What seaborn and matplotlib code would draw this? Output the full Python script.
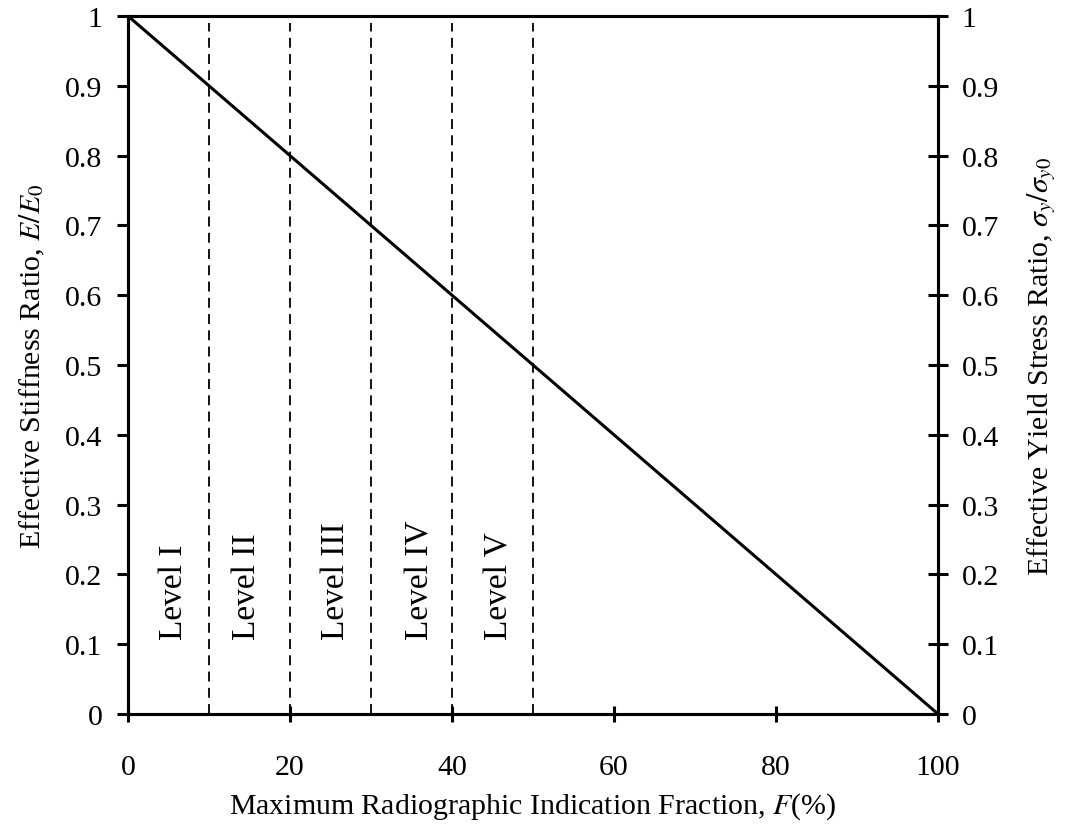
import matplotlib
matplotlib.use("Agg")
import matplotlib.pyplot as plt
import seaborn as sns
import pandas as pd

# Linear degradation: radiographic indication fraction vs. effective property ratio
fraction_pct = [0, 100]
property_ratio = [1.0, 0.0]

# Inspection level boundaries and labels
level_bounds = [10, 20, 30, 40, 50]
level_label_x = [5.6, 14.7, 25.6, 36.1, 45.8]
level_names = ["Level I", "Level II", "Level III", "Level IV", "Level V"]

x_ticks = [0, 20, 40, 60, 80, 100]
y_ticks = [0, 0.1, 0.2, 0.3, 0.4, 0.5, 0.6, 0.7, 0.8, 0.9, 1]
y_tick_labels = ["0", "0.1", "0.2", "0.3", "0.4", "0.5", "0.6", "0.7", "0.8", "0.9", "1"]

FS = 21.5
FS_LEVEL = 24

sns.set_style("ticks")
plt.rcParams["font.family"] = ["Liberation Serif", "DejaVu Serif"]
plt.rcParams["mathtext.fontset"] = "stix"
plt.rcParams["font.size"] = FS
for key in ["text.color", "axes.labelcolor", "xtick.color", "ytick.color",
            "axes.edgecolor"]:
    plt.rcParams[key] = "black"

df = pd.DataFrame({"F": fraction_pct, "ratio": property_ratio})

fig = plt.figure(figsize=(10.68, 8.29), dpi=100)
ax = fig.add_axes([128 / 1068, 1 - 715 / 829, 810 / 1068, 698 / 829])

sns.lineplot(data=df, x="F", y="ratio", ax=ax, color="black", linewidth=2.2)

for xb in level_bounds:
    ax.plot([xb, xb], [0, 0.99], color="black", linewidth=1.3,
            linestyle=(0, (5.5, 3.5)))

for xc, name in zip(level_label_x, level_names):
    ax.text(xc, 0.108, name, rotation=90, ha="center", va="bottom",
            fontsize=FS_LEVEL, color="black")

ax.set_xlim(0, 100)
ax.set_ylim(0, 1)
ax.set_xticks(x_ticks)
ax.set_xticklabels([str(v) for v in x_ticks])
ax.set_yticks(y_ticks)
ax.set_yticklabels(y_tick_labels)

for side in ["left", "bottom", "top", "right"]:
    ax.spines[side].set_linewidth(2.2)
    ax.spines[side].set_color("black")

ax.tick_params(axis="x", direction="inout", length=12, width=2.2,
               pad=23, labelsize=FS, colors="black", top=False)
ax.tick_params(axis="y", direction="out", length=8, width=2.2,
               pad=10.5, labelsize=FS, colors="black", right=False)

ax.set_xlabel(r"Maximum Radiographic Indication Fraction, $F$(%)", fontsize=FS)
ax.set_ylabel(r"Effective Stiffness Ratio, $E/E_0$", fontsize=FS)

# Secondary axis sharing the same normalized scale
ax2 = ax.twinx()
ax2.set_ylim(0, 1)
ax2.set_yticks(y_ticks)
ax2.set_yticklabels(y_tick_labels)
for side in ["left", "bottom", "top", "right"]:
    ax2.spines[side].set_linewidth(2.2)
    ax2.spines[side].set_color("black")
ax2.tick_params(axis="y", direction="inout", length=14, width=2.2,
                pad=10, labelsize=FS, colors="black")
ax2.set_ylabel(r"Effective Yield Stress Ratio, $\sigma_y/\sigma_{y0}$", fontsize=FS)

ax.xaxis.set_label_coords(0.5, -0.11)
ax.yaxis.set_label_coords(-0.1, 0.5)
ax2.yaxis.set_label_coords(1.108, 0.5)

fig.savefig("out.png", dpi=100, facecolor="white")
